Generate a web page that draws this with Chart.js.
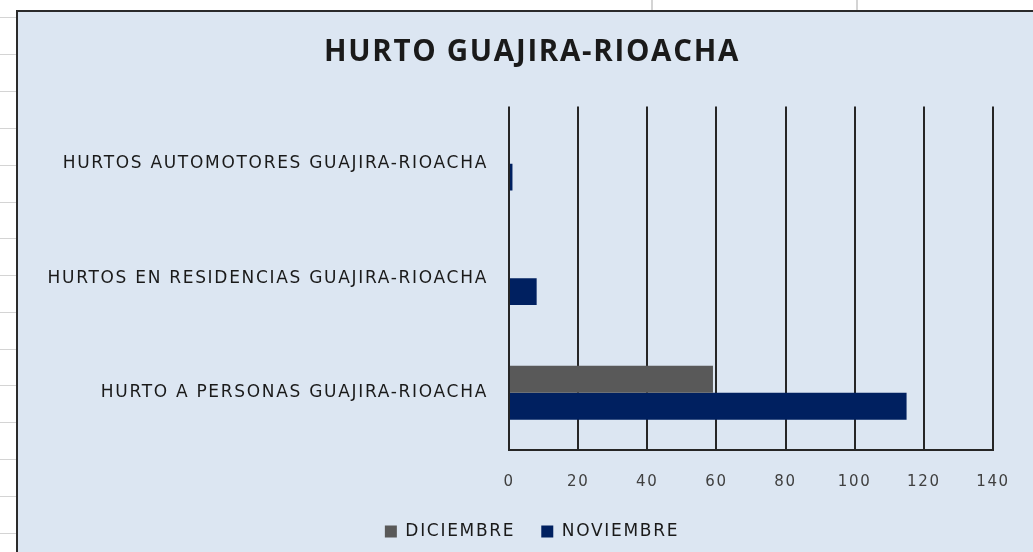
<!DOCTYPE html>
<html>
<head>
<meta charset="utf-8">
<script src="https://cdn.jsdelivr.net/npm/chart.js@4"></script>
<style>
  html, body { margin: 0; padding: 0; background: #fff; overflow: hidden; width: 1033px; height: 552px; }
  .hline { position: absolute; left: 0; width: 16px; height: 1px; background: #d4d4d4; }
  .vline { position: absolute; top: 0; width: 2px; height: 10px; background: #d4d4d4; }
  #box { position: absolute; left: 16px; top: 10px; width: 1040px; height: 560px;
         border: 2px solid #2b2b2b; background: #dce6f2; }
  #wrap { position: relative; width: 1028px; height: 538px; }
</style>
</head>
<body>
<div id="sheet"></div>
<div id="box"><div id="wrap"><canvas id="hurtoChart"></canvas></div></div>
<script>
// spreadsheet cells behind the chart
const sheet = document.getElementById('sheet');
[17, 54, 91, 128, 165, 202, 238, 275, 312, 349, 385, 422, 459, 496, 533].forEach(y => {
  const d = document.createElement('div'); d.className = 'hline'; d.style.top = y + 'px'; sheet.appendChild(d);
});
[651, 856].forEach(x => {
  const d = document.createElement('div'); d.className = 'vline'; d.style.left = x + 'px'; sheet.appendChild(d);
});

const categories = [
  'HURTOS AUTOMOTORES GUAJIRA-RIOACHA',
  'HURTOS EN RESIDENCIAS GUAJIRA-RIOACHA',
  'HURTO A PERSONAS GUAJIRA-RIOACHA'
];
const diciembre = [0, 0, 59];
const noviembre = [1, 8, 115];
const xTicks = [0, 20, 40, 60, 80, 100, 120, 140];

const SPACING = '1.7px';
const spacingPlugin = {
  id: 'spacing',
  beforeUpdate(chart) { chart.ctx.letterSpacing = SPACING; },
  beforeDraw(chart) { chart.ctx.letterSpacing = SPACING; }
};

const ctx = document.getElementById('hurtoChart').getContext('2d');
new Chart(ctx, {
  type: 'bar',
  data: {
    labels: categories,
    datasets: [{
      label: 'DICIEMBRE',
      data: diciembre,
      backgroundColor: '#595959'
    }, {
      label: 'NOVIEMBRE',
      data: noviembre,
      backgroundColor: '#002060'
    }]
  },
  plugins: [spacingPlugin],
  options: {
    indexAxis: 'y',
    responsive: true,
    maintainAspectRatio: false,
    animation: false,
    datasets: { bar: { categoryPercentage: 0.47, barPercentage: 1 } },
    scales: {
      x: {
        min: 0,
        max: 140,
        afterBuildTicks: s => { s.ticks = xTicks.map(v => ({ value: v })); },
        afterFit: s => { s.height = 47; s.paddingRight = 53; },
        ticks: { color: '#404040', font: { family: 'DejaVu Sans', size: 15 }, padding: 23 },
        grid: { color: '#262626', lineWidth: 2, drawTicks: false },
        border: { color: '#262626', width: 2 }
      },
      y: {
        afterFit: s => { s.width = 491; },
        ticks: { color: '#1a1a1a', font: { family: 'DejaVu Sans', size: 17 }, padding: 13 },
        grid: { display: false },
        border: { display: false }
      }
    },
    plugins: {
      title: {
        display: true,
        text: 'HURTO GUAJIRA-RIOACHA',
        color: '#1a1a1a',
        font: { family: 'Open Sans', size: 29.5, weight: 'bold' },
        padding: { top: 23, bottom: 36 }
      },
      legend: {
        position: 'bottom',
        labels: {
          color: '#1a1a1a',
          font: { family: 'DejaVu Sans', size: 17 },
          boxWidth: 12,
          boxHeight: 12,
          padding: 26
        }
      },
      tooltip: { enabled: false }
    }
  }
});
</script>
</body>
</html>
